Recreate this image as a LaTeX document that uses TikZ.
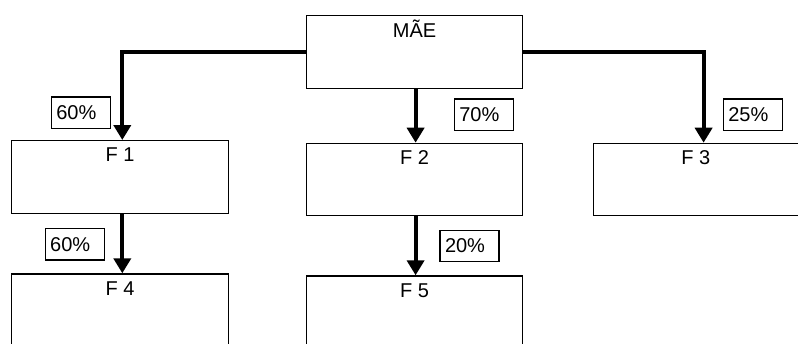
\documentclass[tikz,border=0pt]{standalone}
\usepackage{fontspec}
\setmainfont{Liberation Sans}
\usetikzlibrary{arrows.meta}
\begin{document}
\begin{tikzpicture}[x=1pt,y=-1pt,
  box/.style={draw,line width=1.2pt,rectangle,anchor=north west,inner sep=0pt},
  pct/.style={draw,line width=1.2pt,rectangle,inner ysep=0pt,inner xsep=5pt,text width=49pt,align=left,minimum height=31.5pt,font=\fontsize{20}{23}\selectfont},
  ttl/.style={anchor=base,font=\fontsize{20}{23}\selectfont,inner sep=0pt},
  conn/.style={line width=4pt,-{Triangle[width=17pt,length=15pt]}}]
\useasboundingbox (0,0) rectangle (798,343);
\clip (0,0) rectangle (798,343);
% boxes
\node[box,minimum width=216pt,minimum height=73pt] (mae) at (306,15) {};
\node[box,minimum width=217pt,minimum height=73pt] (f1) at (11,140) {};
\node[box,minimum width=216pt,minimum height=72pt] (f2) at (306,142.7) {};
\node[box,minimum width=204.5pt,minimum height=72pt] (f3) at (593,142.7) {};
\node[box,minimum width=217pt,minimum height=100pt] (f4) at (11,273.3) {};
\node[box,minimum width=216pt,minimum height=100pt] (f5) at (306,275.3) {};
% titles
\node[ttl] (maet) at ([yshift=-22.3pt]mae.north) {MÃE};
\node[ttl] (f1t) at ([yshift=-21.7pt]f1.north) {F 1};
\node[ttl] (f2t) at ([yshift=-21.7pt]f2.north) {F 2};
\node[ttl] (f3t) at ([yshift=-21.7pt]f3.north) {F 3};
\node[ttl] (f4t) at ([yshift=-21.7pt]f4.north) {F 4};
\node[ttl] (f5t) at ([yshift=-21.7pt]f5.north) {F 5};
% connectors
\draw[conn] (mae.west) -| ([xshift=2.2pt]f1.north);
\draw[conn] ([xshift=1pt]mae.south) -- ([xshift=1pt]f2.north);
\draw[conn] (mae.east) -| ([xshift=7.75pt]f3.north);
\draw[conn] ([xshift=2.2pt]f1.south) -- ([xshift=2.2pt]f4.north);
\draw[conn] ([xshift=1pt]f2.south) -- ([xshift=1pt]f5.north);
% percentages
\node[pct] (p1) at (80.85,112.65) {60\%};
\node[pct] (p2) at (483.8,114.7) {70\%};
\node[pct] (p3) at (752.85,114.7) {25\%};
\node[pct] (p4) at (74.65,244.15) {60\%};
\node[pct] (p5) at (469.5,246) {20\%};
\end{tikzpicture}
\end{document}
